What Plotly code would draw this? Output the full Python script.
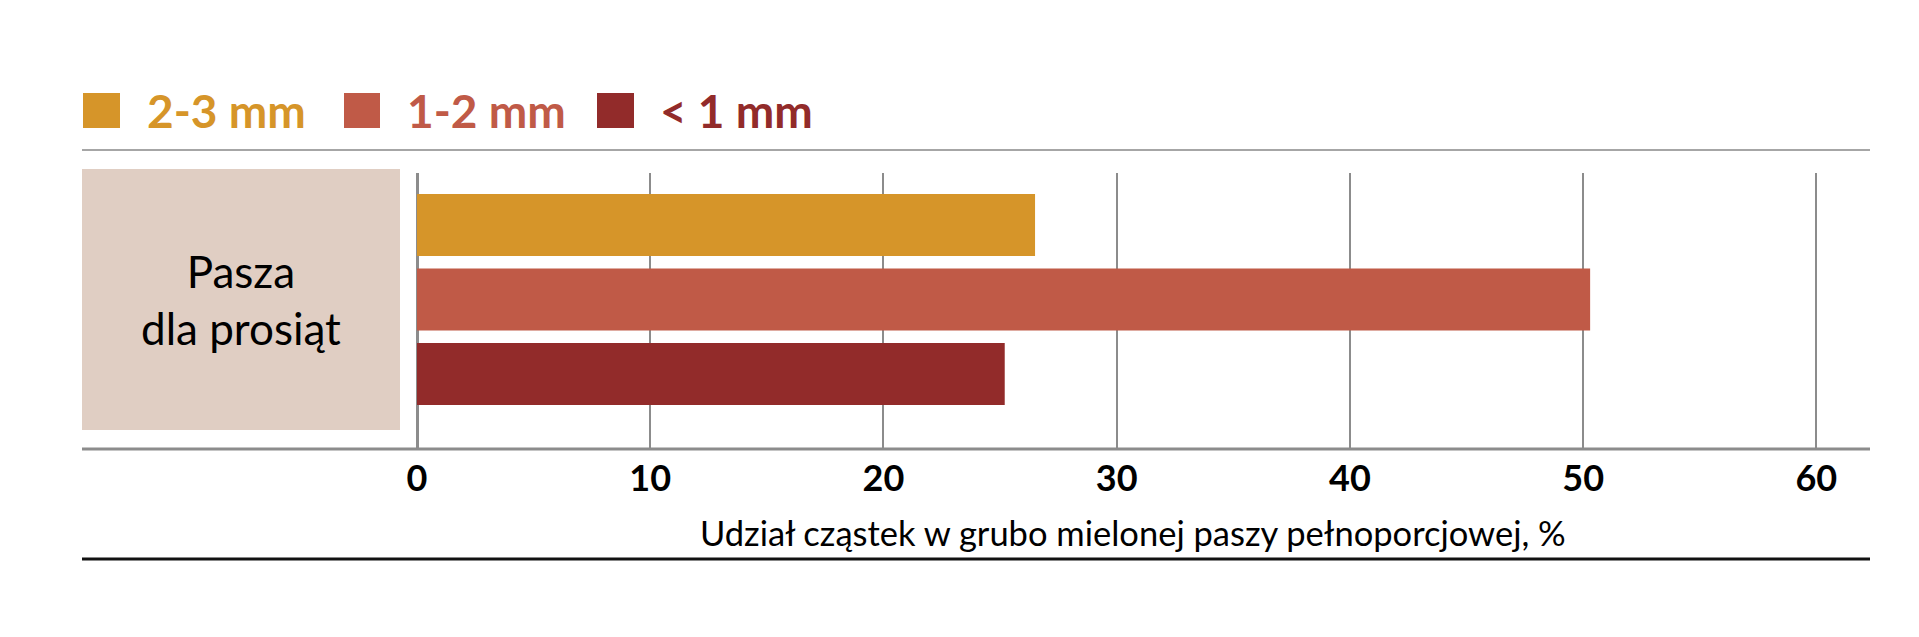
import plotly.graph_objects as go

# data
group_label = "Pasza<br>dla prosiąt"
sizes = ["2-3 mm", "1-2 mm", "< 1 mm"]
shares = [26.5, 50.3, 25.2]
x_ticks = [0, 10, 20, 30, 40, 50, 60]
x_title = "Udział cząstek w grubo mielonej paszy pełnoporcjowej, %"

colors = ["#D69529", "#C05A47", "#922B2A"]

W, H = 1919, 637
# plot area in pixels
PL, PR, PT, PB = 416, 1869, 172, 448
SHIFT = 7  # small correction of the whole drawing up/left


def px(x):
    return (x - PL) / (PR - PL)


def py(y):
    return (PB - y) / (PB - PT)


fig = go.Figure()
for name, val, col in zip(sizes, shares, colors):
    fig.add_trace(go.Bar(
        y=[group_label], x=[val], name=name, orientation="h",
        marker=dict(color=col, line=dict(width=0)),
        showlegend=False,
    ))

shapes = [
    # category box on the left
    dict(type="rect", xref="paper", yref="paper", x0=px(81), x1=px(399),
         y0=py(429), y1=py(168), fillcolor="#E0CEC3", line=dict(width=0), layer="below"),
    # top grey rule
    dict(type="line", xref="paper", yref="paper", x0=px(81), x1=1, y0=py(149), y1=py(149),
         line=dict(color="#A6A6A6", width=2)),
    # axis rule
    dict(type="line", xref="paper", yref="paper", x0=px(81), x1=1, y0=0, y1=0,
         line=dict(color="#8C8C8C", width=3)),
    # bottom black rule
    dict(type="line", xref="paper", yref="paper", x0=px(81), x1=1, y0=py(558), y1=py(558),
         line=dict(color="#111111", width=3)),
]

annotations = [
    dict(text=group_label, xref="paper", yref="paper", x=px(240), y=py(298),
         showarrow=False, font=dict(family="Lato", size=44, color="#000000"),
         xanchor="center", yanchor="middle", align="center"),
    # x axis title
    dict(text=x_title, xref="paper", yref="paper", x=px(1132), y=py(531),
         showarrow=False, font=dict(family="Lato", size=34.5, color="#000000"),
         xanchor="center", yanchor="middle"),
]

# hand-drawn legend
leg_sq = [(82, 119), (343, 379), (596, 633)]
leg_txt = [144, 404, 657]
for name, col, (a, b), tx in zip(sizes, colors, leg_sq, leg_txt):
    shapes.append(dict(type="rect", xref="paper", yref="paper", x0=px(a), x1=px(b),
                       y0=py(127), y1=py(92), fillcolor=col, line=dict(width=0)))
    annotations.append(dict(text="<b>" + name.replace("<", "&lt;") + "</b>", xref="paper", yref="paper",
                            x=px(tx), y=py(110), showarrow=False, xanchor="left", yanchor="middle",
                            font=dict(family="Lato", size=46, color=col)))

fig.update_layout(
    width=W, height=H,
    margin=dict(l=PL - SHIFT, r=W - PR + SHIFT, t=PT - SHIFT, b=H - PB + SHIFT),
    paper_bgcolor="white", plot_bgcolor="white",
    barmode="group", bargap=0.2, bargroupgap=0.168,
    shapes=shapes, annotations=annotations,
    xaxis=dict(
        range=[0, 62.3], tickvals=x_ticks, ticktext=["<b>%d</b>" % t for t in x_ticks],
        showgrid=True, gridcolor="#8C8C8C", gridwidth=2,
        zeroline=True, zerolinecolor="#8C8C8C", zerolinewidth=3,
        showline=False, ticks="",
        tickfont=dict(family="Lato", size=36, color="#000000"),
        ticklabelstandoff=5,
    ),
    yaxis=dict(
        range=[0.535, -0.453], showticklabels=False, showgrid=False,
        zeroline=False, showline=False, ticks="",
    ),
)

fig.write_html("out.html")
